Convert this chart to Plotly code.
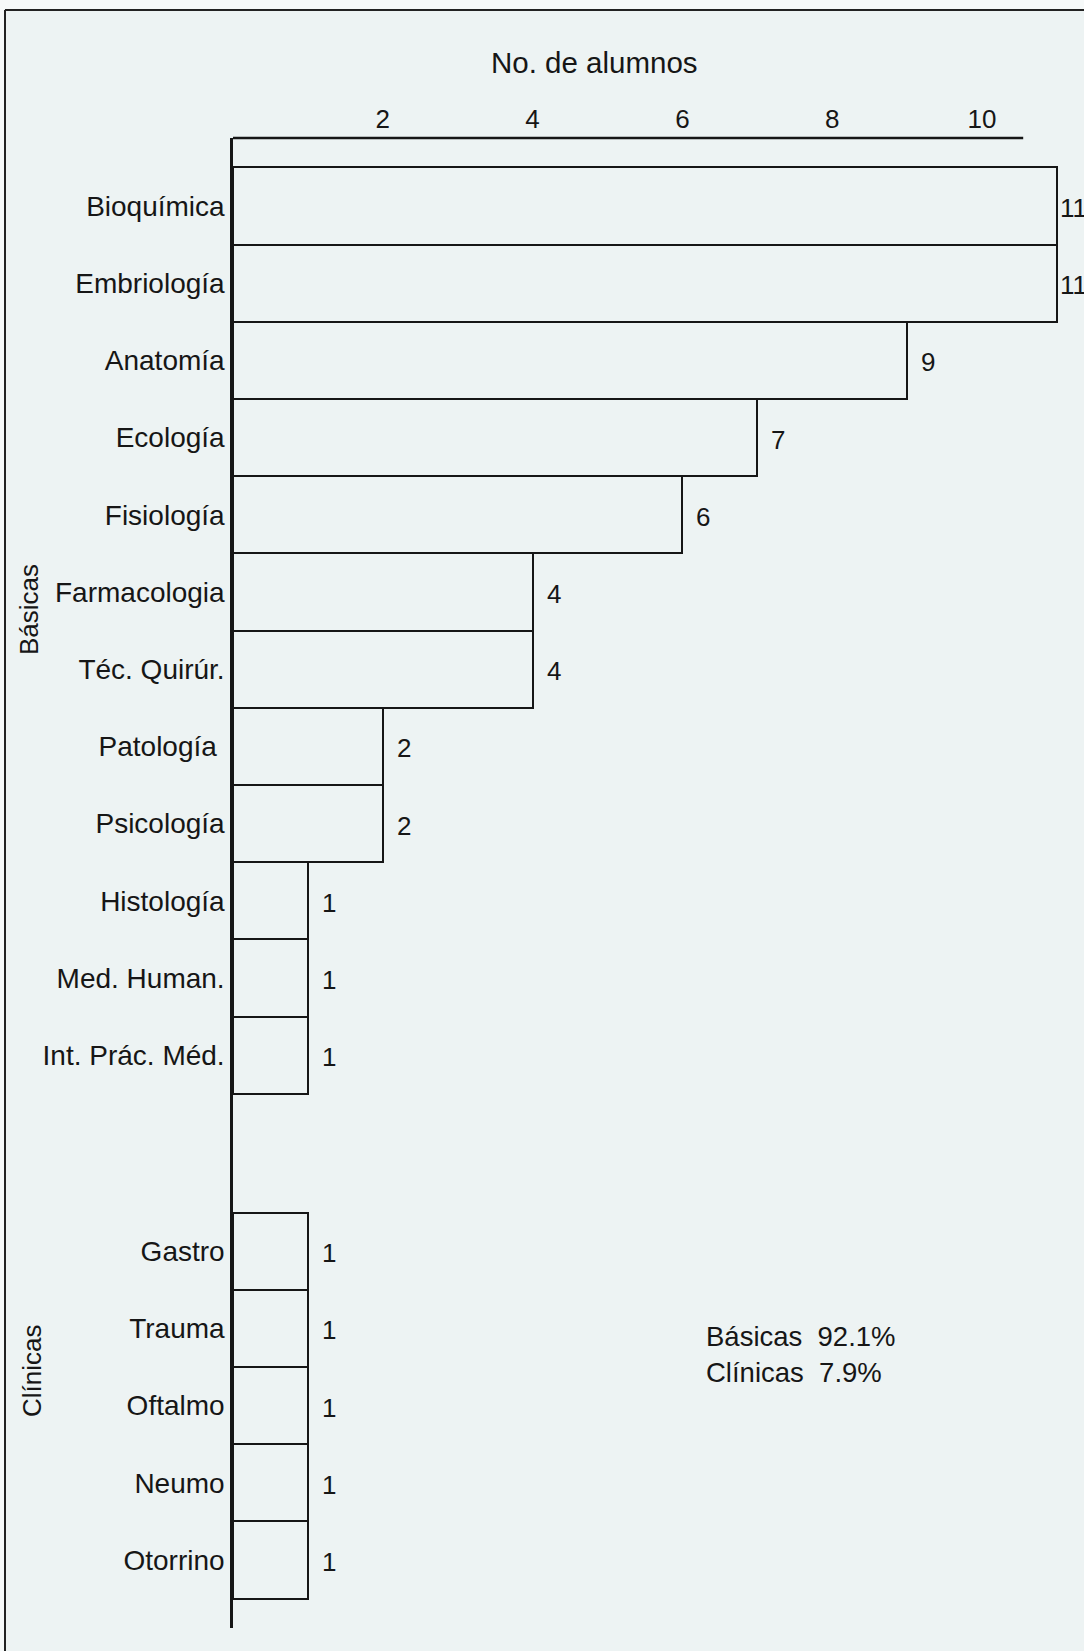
import plotly.graph_objects as go

# data
basicas = ["Bioquímica", "Embriología", "Anatomía", "Ecología", "Fisiología",
           "Farmacologia", "Téc. Quirúr.", "Patología ", "Psicología", "Histología",
           "Med. Human.", "Int. Prác. Méd."]
basicas_n = [11, 11, 9, 7, 6, 4, 4, 2, 2, 1, 1, 1]
clinicas = ["Gastro", "Trauma", "Oftalmo", "Neumo", "Otorrino"]
clinicas_n = [1, 1, 1, 1, 1]
x_ticks = [2, 4, 6, 8, 10]
resumen = ["Básicas\u00a0 92.1%", "Clínicas\u00a0 7.9%"]

W, H = 1084, 1651
L, R, T, B = 233, 0, 138, 23
PX_PER_UNIT = 74.9
GAP = 1.54          # empty space between the two groups, in bar heights
PAD = 0.38          # space above first / below last bar
AXIS_END = 10.55    # top axis line stops short of the bars

BG = "#edf3f3"
INK = "#161616"
FONT = "Liberation Sans, Arial, sans-serif"

names = basicas + clinicas
values = basicas_n + clinicas_n
pos = list(range(len(basicas))) + [len(basicas) - 0.5 + GAP + 0.5 + j for j in range(len(clinicas))]

y_top = -0.5 - PAD
y_bot = pos[-1] + 0.5 + PAD
x_max = (W - L - R) / PX_PER_UNIT

pw, ph = W - L - R, H - T - B


# page pixel -> paper coordinates
def px_x(p):
    return (p - L) / pw


def px_y(p):
    return (H - B - p) / ph


fig = go.Figure(go.Bar(
    x=values, y=pos, orientation="h", width=1,
    marker=dict(color="rgba(0,0,0,0)", line=dict(color=INK, width=2)),
    hoverinfo="skip",
))

# value labels next to the bars (squeezed in where the page edge is close)
for v, p in zip(values, pos):
    room = W - (L + v * PX_PER_UNIT)
    shift = max(1, min(12, room - 27))
    fig.add_annotation(x=v, y=p, text=str(v), showarrow=False, xanchor="left", yanchor="middle",
                       xshift=shift, yshift=-2, font=dict(size=26, color=INK, family=FONT))

# axis title
fig.add_annotation(xref="paper", yref="paper", x=px_x(594), y=px_y(63), text="No. de alumnos",
                   showarrow=False, xanchor="center", yanchor="middle",
                   font=dict(size=29.5, color=INK, family=FONT))

# group labels
fig.add_annotation(xref="paper", yref="paper", x=px_x(29), y=px_y(610), text="Básicas",
                   textangle=-90, showarrow=False, xanchor="center", yanchor="middle",
                   font=dict(size=26, color=INK, family=FONT))
fig.add_annotation(xref="paper", yref="paper", x=px_x(32), y=px_y(1371), text="Clínicas",
                   textangle=-90, showarrow=False, xanchor="center", yanchor="middle",
                   font=dict(size=26, color=INK, family=FONT))

# summary
fig.add_annotation(xref="paper", yref="paper", x=px_x(704), y=px_y(1354), text="<br>".join(resumen),
                   align="left", xanchor="left", yanchor="middle", showarrow=False,
                   font=dict(size=27.5, color=INK, family=FONT))

# top axis line
fig.add_shape(type="line", xref="x", yref="paper", x0=0, x1=AXIS_END, y0=1, y1=1,
              line=dict(color=INK, width=2.5))
# scan border (top and left)
fig.add_shape(type="line", xref="paper", yref="paper", x0=px_x(5), x1=px_x(W), y0=px_y(10), y1=px_y(10),
              line=dict(color="#222", width=2))
fig.add_shape(type="line", xref="paper", yref="paper", x0=px_x(5), x1=px_x(5), y0=px_y(10), y1=px_y(H),
              line=dict(color="#222", width=2))
# light strip outside the scanned page
fig.add_shape(type="rect", xref="paper", yref="paper", x0=px_x(0), x1=px_x(W), y0=px_y(0), y1=px_y(9),
              line=dict(width=0), fillcolor="#f6f9f9", layer="below")
fig.add_shape(type="rect", xref="paper", yref="paper", x0=px_x(0), x1=px_x(4), y0=px_y(0), y1=px_y(H),
              line=dict(width=0), fillcolor="#f6f9f9", layer="below")

fig.update_layout(
    width=W, height=H,
    margin=dict(l=L, r=R, t=T, b=B),
    paper_bgcolor=BG, plot_bgcolor=BG,
    showlegend=False,
    bargap=0,
    font=dict(family=FONT, size=26, color=INK),
)
fig.update_xaxes(range=[0, x_max], side="top", tickvals=x_ticks, showgrid=False, automargin=False,
                 zeroline=False, showline=False, ticks="", ticklabelstandoff=4, tickfont=dict(size=26))
fig.update_yaxes(range=[y_bot, y_top], tickvals=pos, ticktext=names, showgrid=False, automargin=False,
                 zeroline=False, showline=True, linecolor=INK, linewidth=2.5, ticks="",
                 tickfont=dict(size=28))

# drop the default body margin so the figure fills the window exactly
fig.write_html("out.html", config={"displayModeBar": False},
               post_script="document.body.style.margin='0';document.body.style.overflow='hidden';")
